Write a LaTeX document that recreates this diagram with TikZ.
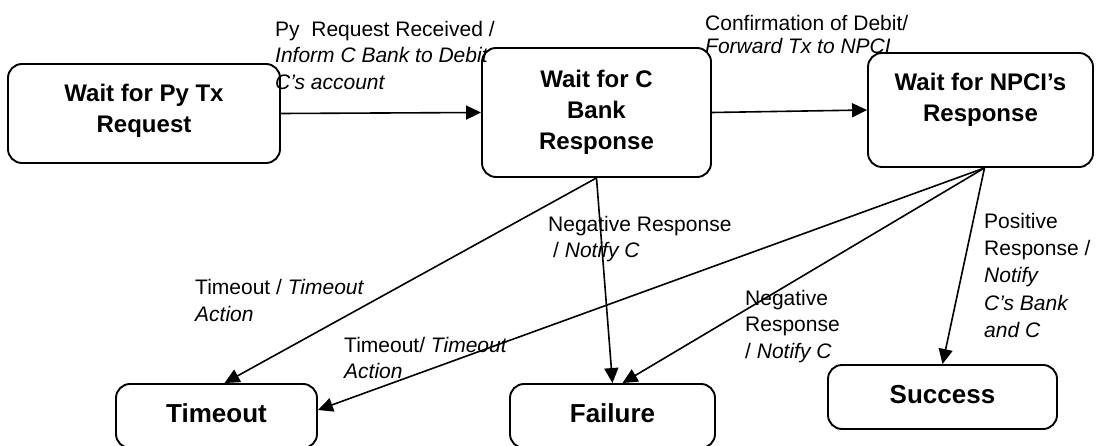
\documentclass[tikz,border=0pt]{standalone}
\usepackage{fontspec}
\setmainfont{Liberation Sans}
\usetikzlibrary{arrows.meta}
\newcommand\lstrut{\rule{0pt}{16pt}}
\begin{document}
\begin{tikzpicture}[x=1pt,y=-1pt,
  box/.style={draw, line width=1.9pt, rounded corners=14pt, align=center,
    font=\fontsize{24}{31}\selectfont\bfseries, inner sep=0pt},
  endbox/.style={box, font=\fontsize{26}{31}\selectfont\bfseries, text depth=6pt},
  lbl/.style={anchor=north west, align=left, inner sep=0pt},
  conn/.style={line width=1.6pt, -{Triangle[length=15pt,width=14pt]}}]
\useasboundingbox (0,0) rectangle (1096,446);
\clip (0,0) rectangle (1096,446);
% states
\node[box, minimum width=272pt, minimum height=99pt] (A) at (144,113.5) {Wait for Py Tx\\Request\\[-20pt]\mbox{}};
\node[box, minimum width=229pt, minimum height=129pt] (B) at (596.5,112.5) {Wait for C\\Bank\\Response};
\node[box, minimum width=225pt, minimum height=114pt] (C) at (980.5,110) {Wait for NPCI’s\\Response\\[-6pt]\mbox{}};
\node[endbox, minimum width=201pt, minimum height=64pt] (T) at (216.5,416) {Timeout};
\node[endbox, minimum width=205pt, minimum height=64pt] (F) at (612.5,416) {Failure};
\node[endbox, minimum width=229pt, minimum height=64pt] (S) at (942.5,397) {Success};
% labels
\node[lbl, font=\fontsize{21}{26.5}\selectfont] (l1) at (275,20)
  {\lstrut Py~ Request Received /\\\textit{Inform C Bank to Debit}\\\textit{C’s account}};
\node[lbl, font=\fontsize{21}{23}\selectfont] (l2) at (705,14)
  {\lstrut Confirmation of Debit/\\\textit{Forward Tx to NPCI}};
\node[lbl, font=\fontsize{21}{26}\selectfont] (l3) at (548,215)
  {\lstrut Negative Response\\\hspace*{5pt}/ \textit{Notify C}};
\node[lbl, font=\fontsize{21}{26.5}\selectfont] (l4) at (745,289)
  {\lstrut Negative\\Response\\/ \textit{Notify C}};
\node[lbl, font=\fontsize{21}{27.3}\selectfont] (l5) at (984,212)
  {\lstrut Positive\\Response /\\\textit{Notify}\\\textit{C’s Bank}\\\textit{and C}};
\node[lbl, font=\fontsize{21}{27}\selectfont] (l6) at (195,278)
  {\lstrut Timeout / \textit{Timeout}\\\textit{Action}};
\node[lbl, font=\fontsize{21}{26}\selectfont] (l7) at (344,336)
  {\lstrut Timeout/ \textit{Timeout}\\\textit{Action}};
% transitions
\coordinate (cs) at ([xshift=4pt]C.south);
\draw[conn] (A.east) -- (B.west);
\draw[conn] (B.east) -- (C.west);
\draw[conn] (B.south) -- ([xshift=8pt]T.north);
\draw[conn] (B.south) -- (F.north);
\draw[conn] (cs) -- ([yshift=6pt]T.east);
\draw[conn] (cs) -- ([xshift=10pt]F.north);
\draw[conn] (cs) -- (S.north);
\end{tikzpicture}
\end{document}
